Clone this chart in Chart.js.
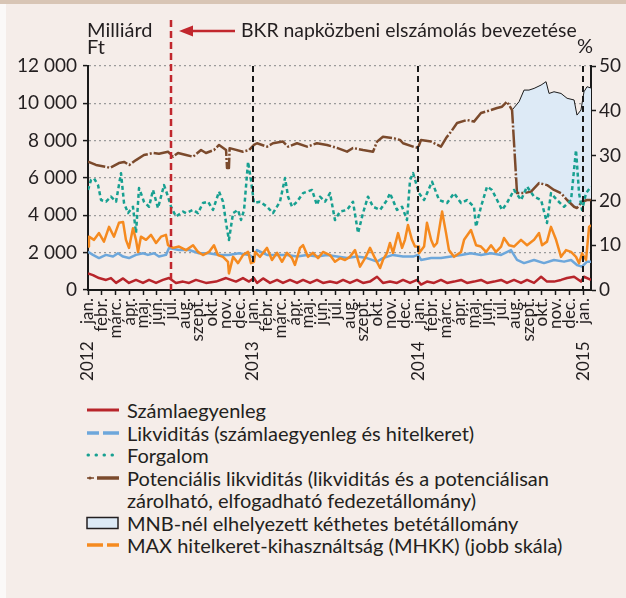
<!DOCTYPE html>
<html>
<head>
<meta charset="utf-8">
<script src="https://cdn.jsdelivr.net/npm/chart.js@4"></script>
<style>
  body { margin: 0; background: #fbf9f8; font-family: Lato, sans-serif; color: #231f20; }
  .band { position: absolute; left: 0; top: 0; width: 626px; height: 4px; background: #d8c5b5; }
  .panel { position: absolute; left: 6px; top: 4px; width: 620px; height: 594px; background: #f5ede9; }
  #wrap { position: absolute; left: 0; top: 0; width: 620px; height: 392px; }
  .legend { position: absolute; left: 0; top: 395px; font-size: 20px; line-height: 22.5px; }
  .row { position: relative; padding-left: 121px; }
  .row svg { position: absolute; left: 80px; top: 4px; }
</style>
</head>
<body>
<div class="band"></div>
<div class="panel">
  <div id="wrap"><canvas id="chart"></canvas></div>
  <div class="legend" id="legend"></div>
</div>
<script>
// months from 2012 jan. 1 (0) to mid jan. 2015
const monthNames = ["jan.", "febr.", "márc.", "ápr.", "máj.", "jún.", "júl.", "aug.", "szept.", "okt.", "nov.", "dec."];
const years = [2012, 2013, 2014, 2015];
const xMax = 36.58;

// Számlaegyenleg, billion Ft
const szamla = [[0,890],[0.36,800],[0.8,640],[1.31,540],[1.67,640],[2.04,380],[2.55,620],[2.98,380],[3.49,540],[4.0,380],[4.44,540],[4.95,380],[5.45,540],[5.89,640],[6.4,380],[6.91,450],[7.35,380],[7.85,540],[8.58,380],[9.31,450],[10.04,640],[10.76,450],[11.27,640],[11.71,450],[12.07,640],[12.29,380],[12.73,620],[13.24,380],[13.75,540],[14.18,380],[14.69,540],[15.2,380],[15.64,540],[16.15,380],[16.65,540],[17.09,380],[17.6,450],[18.11,380],[18.55,540],[19.05,380],[19.56,540],[20.0,380],[20.5,450],[21.02,710],[21.45,380],[21.96,450],[22.47,380],[22.91,540],[23.42,380],[23.93,540],[24.22,290],[24.65,450],[25.16,380],[25.67,540],[26.11,380],[26.62,450],[27.13,540],[27.56,380],[28.07,450],[28.58,540],[29.02,380],[29.53,450],[30.04,540],[30.47,380],[30.98,540],[31.49,380],[31.93,540],[32.44,380],[32.95,710],[33.38,450],[33.89,450],[34.4,540],[34.84,640],[35.35,710],[35.85,450],[36.07,710],[36.58,540]];

// Likviditás (számlaegyenleg és hitelkeret)
const likvid = [[0,2050],[0.36,1880],[0.8,1710],[1.31,1880],[1.82,1790],[2.18,1970],[2.55,1790],[2.98,1710],[3.49,1880],[4.0,1970],[4.36,1880],[4.8,1970],[5.16,1790],[5.67,1880],[5.89,2250],[6.62,2140],[7.35,2140],[8.07,1970],[8.8,1970],[9.53,1880],[10.25,1880],[10.98,1970],[11.71,1880],[12.07,1710],[12.29,2140],[13.02,1880],[13.75,1880],[14.47,1880],[15.2,1790],[15.93,1880],[16.65,1790],[17.38,1880],[18.11,1790],[18.84,1710],[19.56,1790],[20.29,1710],[21.02,1520],[21.45,1710],[22.18,1880],[22.91,1790],[23.64,1790],[24.0,1880],[24.22,1610],[24.95,1710],[25.67,1710],[26.4,1790],[27.13,1880],[27.85,1970],[28.58,1880],[29.31,1970],[30.04,1880],[30.76,2140],[31.2,1610],[31.71,1440],[32.44,1610],[33.16,1440],[33.89,1610],[34.62,1520],[35.13,1610],[35.56,1340],[35.93,1250],[36.29,1520],[36.58,1520]];

// Forgalom
const forgalom = [[0,5360],[0.22,5890],[0.44,5980],[0.73,5620],[0.95,4820],[1.31,4730],[1.67,5000],[2.04,4730],[2.4,6260],[2.62,4660],[2.91,4120],[3.27,4460],[3.49,3050],[3.71,5460],[4.07,4730],[4.44,4460],[4.73,5360],[5.09,4390],[5.53,5620],[5.82,5000],[6.04,4460],[6.4,3930],[6.91,4200],[7.13,4120],[7.64,4290],[8.0,4120],[8.36,4660],[8.73,4730],[9.09,4290],[9.53,5270],[9.82,4730],[10.04,3590],[10.25,2680],[10.55,4120],[10.91,4290],[11.13,3750],[11.35,4290],[11.64,6870],[11.85,5890],[12.07,4660],[12.51,4730],[13.02,4460],[13.45,4120],[13.96,4730],[14.33,6000],[14.55,5000],[14.84,4460],[15.2,4730],[15.64,5190],[16.29,5360],[16.65,4550],[16.87,5000],[17.24,4730],[17.6,5190],[17.96,3750],[18.33,4200],[18.84,4290],[19.27,4730],[19.64,3050],[20.0,4120],[20.36,5000],[20.73,4460],[21.24,4290],[21.75,4820],[21.96,5190],[22.47,4290],[22.84,4460],[23.2,3750],[23.42,5890],[23.64,6260],[23.93,5540],[24.07,5190],[24.44,4820],[25.02,5800],[25.53,4820],[26.11,4660],[26.62,5190],[27.13,4660],[27.56,4820],[28.07,4460],[28.22,3390],[28.58,4460],[29.02,5540],[29.38,5360],[29.75,4820],[30.11,4290],[30.47,4660],[30.98,5360],[31.49,4820],[31.93,5540],[32.44,5000],[32.95,4820],[33.38,3590],[33.67,5190],[34.11,4820],[34.62,4460],[35.13,4820],[35.49,7500],[35.71,5190],[35.93,4290],[36.22,5190],[36.58,5540]];

// Potenciális likviditás
const potencialis = [[0,6870],[0.58,6700],[1.31,6600],[1.6,6540],[2.25,6800],[2.62,6860],[3.0,6700],[3.49,6960],[4.07,7230],[4.73,7340],[5.16,7300],[5.82,7410],[6.18,7140],[6.55,7340],[7.13,7230],[7.64,7140],[8.22,7500],[8.58,7340],[9.16,7500],[9.53,7770],[10.04,7500],[10.11,6540],[10.25,6540],[10.3,7600],[11.27,7410],[11.71,7500],[12.07,7770],[12.29,7860],[13.02,7680],[13.45,7860],[14.18,7950],[14.55,7680],[15.2,7860],[15.93,7680],[16.65,7860],[17.38,7770],[18.11,7610],[18.84,7410],[19.27,7610],[20.0,7500],[20.73,7410],[21.02,7950],[21.45,8210],[22.18,8140],[22.69,8040],[22.91,7860],[23.64,7680],[24.0,7610],[24.22,8040],[24.95,7950],[25.67,7680],[26.04,8140],[26.4,8480],[26.84,8950],[27.56,9110],[28.07,9020],[28.58,9480],[29.31,9640],[29.75,9750],[30.11,9820],[30.47,10090],[30.84,9640],[31.2,5190],[31.71,5190],[32.22,5270],[32.8,5730],[33.38,5620],[33.89,5360],[34.4,5190],[34.84,4820],[35.35,4460],[35.56,4390],[35.93,4730],[36.29,4820],[36.58,4820]];

// top of the MNB two-week deposit band (sits on potenciális likviditás)
const mnbTop = [[30.84,9640],[31.35,10090],[31.71,10710],[32.07,10710],[32.44,10800],[32.95,10980],[33.31,11160],[33.53,10530],[33.89,10620],[34.4,10530],[34.84,10270],[35.35,10180],[35.56,9370],[35.85,9640],[36.07,10620],[36.29,10890],[36.58,10820]];

// MAX hitelkeret-kihasználtság, % (right scale)
const mhkk = [[0,9.7],[0.07,11.9],[0.44,11.2],[0.8,12.7],[1.16,10.8],[1.53,14.1],[1.89,11.9],[2.25,15.0],[2.55,15.2],[2.76,11.2],[2.98,9.4],[3.27,13.8],[3.49,11.2],[3.64,8.5],[3.85,11.9],[4.22,11.2],[4.58,12.3],[4.95,10.5],[5.31,11.9],[5.67,12.3],[5.82,10.0],[6.18,9.4],[6.62,9.7],[7.13,8.9],[7.64,10.0],[8.0,8.5],[8.36,7.8],[8.8,8.5],[9.16,10.0],[9.45,7.8],[9.82,7.4],[10.18,6.3],[10.25,3.7],[10.55,7.4],[10.91,6.0],[11.27,7.8],[11.64,8.5],[11.85,6.0],[12.07,6.3],[12.15,8.5],[12.51,7.4],[13.02,9.4],[13.38,6.7],[13.75,8.3],[14.11,6.3],[14.47,8.3],[14.84,7.1],[15.05,5.6],[15.42,9.4],[15.64,10.0],[16.0,7.4],[16.36,8.3],[16.73,7.1],[17.09,8.5],[17.6,7.8],[17.96,6.3],[18.33,7.1],[18.69,6.7],[19.05,7.4],[19.42,8.9],[19.78,5.2],[20.15,7.1],[20.51,9.4],[20.87,7.1],[21.24,4.9],[21.45,6.7],[21.75,8.3],[21.96,10.5],[22.18,8.3],[22.55,12.7],[22.84,9.4],[23.05,11.2],[23.27,14.5],[23.56,11.2],[23.78,9.7],[24.0,9.7],[24.07,8.2],[24.44,9.7],[24.65,15.0],[24.95,11.2],[25.16,9.7],[25.38,10.5],[25.75,17.5],[26.04,12.7],[26.25,8.9],[26.62,7.4],[27.13,8.5],[27.35,11.2],[27.85,13.4],[28.22,10.0],[28.58,9.7],[28.95,8.5],[29.31,10.0],[29.67,8.5],[30.04,9.7],[30.25,11.6],[30.62,10.0],[30.98,9.7],[31.49,11.2],[31.93,10.0],[32.44,11.2],[32.8,12.7],[33.02,10.0],[33.38,10.8],[33.67,14.1],[34.04,11.2],[34.4,7.4],[34.76,8.9],[35.13,8.5],[35.49,7.4],[35.71,6.0],[35.93,8.2],[36.22,6.7],[36.44,14.1],[36.58,14.5]];

const bkrMonth = 6;
const yearLines = [12, 24, 36];

const toXY = (arr) => arr.map((p) => ({ x: p[0], y: p[1] }));
const fmt = (v) => String(v).replace(/\B(?=(\d{3})+(?!\d))/g, " ");

const ink = "#231f20";
const font = "Lato, sans-serif";

const annotations = {
  id: "annotations",
  afterDatasetsDraw(chart) {
    const ctx = chart.ctx;
    const xs = chart.scales.x;
    const area = chart.chartArea;
    ctx.save();
    // year separators
    ctx.strokeStyle = "#1a1a1a";
    ctx.lineWidth = 2;
    ctx.setLineDash([6, 4]);
    yearLines.forEach((m) => {
      const x = Math.round(xs.getPixelForValue(m));
      ctx.beginPath();
      ctx.moveTo(x, area.top);
      ctx.lineTo(x, area.bottom);
      ctx.stroke();
    });
    // BKR line
    const xr = Math.round(xs.getPixelForValue(bkrMonth));
    ctx.strokeStyle = "#c1272d";
    ctx.lineWidth = 2.5;
    ctx.setLineDash([7, 4]);
    ctx.beginPath();
    ctx.moveTo(xr, 16);
    ctx.lineTo(xr, area.bottom);
    ctx.stroke();
    // arrow
    ctx.setLineDash([]);
    ctx.beginPath();
    ctx.moveTo(xr + 18, 27);
    ctx.lineTo(xr + 64, 27);
    ctx.stroke();
    ctx.fillStyle = "#c1272d";
    ctx.beginPath();
    ctx.moveTo(xr + 8, 27);
    ctx.lineTo(xr + 22, 21.5);
    ctx.lineTo(xr + 22, 32.5);
    ctx.closePath();
    ctx.fill();
    // texts
    ctx.fillStyle = ink;
    ctx.font = "19.4px " + font;
    ctx.textBaseline = "middle";
    ctx.textAlign = "left";
    ctx.fillText("BKR napközbeni elszámolás bevezetése", xr + 70, 27);
    ctx.font = "20px " + font;
    ctx.fillText("Milliárd", 81, 27);
    ctx.fillText("Ft", 81, 44);
    ctx.fillText("%", 571, 43);
    ctx.restore();
  },
};

new Chart(document.getElementById("chart"), {
  type: "line",
  data: {
    datasets: [
      {
        label: "MNB-nél elhelyezett kéthetes betétállomány",
        data: toXY(mnbTop),
        borderColor: "#1a1a1a",
        borderWidth: 1,
        backgroundColor: "#ddeaf6",
        fill: 1,
        order: 6,
      },
      {
        label: "Potenciális likviditás",
        data: toXY(potencialis),
        borderColor: "#7b4a2c",
        borderWidth: 2.5,
        borderDash: [18, 2, 2, 2],
        order: 5,
      },
      {
        label: "Likviditás",
        data: toXY(likvid),
        borderColor: "#6da7db",
        borderWidth: 2.5,
        order: 4,
      },
      {
        label: "Számlaegyenleg",
        data: toXY(szamla),
        borderColor: "#b8252b",
        borderWidth: 2.5,
        order: 3,
      },
      {
        label: "Forgalom",
        data: toXY(forgalom),
        borderColor: "#17a091",
        borderWidth: 2.5,
        borderDash: [4, 3],
        order: 2,
      },
      {
        label: "MAX hitelkeret-kihasználtság",
        data: toXY(mhkk),
        borderColor: "#f58a1f",
        borderWidth: 2.5,
        yAxisID: "y2",
        order: 1,
      },
    ],
  },
  options: {
    responsive: true,
    maintainAspectRatio: false,
    animation: false,
    layout: { padding: { top: 62, left: 0, right: 0, bottom: 0 } },
    elements: { point: { radius: 0 }, line: { tension: 0, borderJoinStyle: "round" } },
    plugins: { legend: { display: false }, tooltip: { enabled: false } },
    scales: {
      x: {
        type: "linear",
        min: 0,
        max: xMax,
        afterBuildTicks: (s) => {
          s.ticks = [];
          for (let i = 0; i <= 36; i++) s.ticks.push({ value: i });
        },
        afterFit: (s) => { s.height = 106; },
        grid: { drawOnChartArea: false, tickLength: 5, tickColor: "#1a1a1a", tickWidth: 1.5 },
        border: { color: "#1a1a1a", width: 2 },
        ticks: {
          autoSkip: false,
          minRotation: 90,
          maxRotation: 90,
          padding: 3,
          color: ink,
          font: { family: font, size: 17 },
          callback: (v) => {
            const i = Math.round(v);
            const name = monthNames[i % 12];
            return i % 12 === 0 ? years[i / 12] + "    " + name : name;
          },
        },
      },
      y: {
        position: "left",
        min: 0,
        max: 12000,
        afterFit: (s) => { s.width = 82; },
        grid: { color: "#9b9b9b", lineWidth: 1.2, tickLength: 5, tickColor: "#1a1a1a", tickWidth: 1.5 },
        border: { color: "#1a1a1a", width: 2, dash: [2, 3] },
        ticks: {
          stepSize: 2000,
          padding: 6,
          color: ink,
          font: { family: font, size: 19 },
          callback: (v) => fmt(v),
        },
      },
      y2: {
        position: "right",
        min: 0,
        max: 50,
        afterFit: (s) => { s.width = 35; },
        grid: { drawOnChartArea: false, tickLength: 5, tickColor: "#1a1a1a", tickWidth: 1.5 },
        border: { color: "#1a1a1a", width: 2 },
        ticks: {
          stepSize: 5,
          padding: 3,
          color: ink,
          font: { family: font, size: 19 },
        },
      },
    },
  },
  plugins: [annotations],
});

// legend
const legendItems = [
  { text: "Számlaegyenleg", svg: '<line x1="1" y1="7" x2="33" y2="7" stroke="#b8252b" stroke-width="3"/>' },
  { text: "Likviditás (számlaegyenleg és hitelkeret)", svg: '<line x1="1" y1="7" x2="33" y2="7" stroke="#6da7db" stroke-width="3.5" stroke-dasharray="12 4 16"/>' },
  { text: "Forgalom", svg: '<line x1="2" y1="7" x2="33" y2="7" stroke="#17a091" stroke-width="3" stroke-linecap="round" stroke-dasharray="0.5 7.5"/>' },
  { text: "Potenciális likviditás (likviditás és a potenciálisan<br>zárolható, elfogadható fedezetállomány)", svg: '<line x1="1" y1="7" x2="8" y2="7" stroke="#7b4a2c" stroke-width="1.5"/><circle cx="4" cy="7" r="1.6" fill="#7b4a2c"/><line x1="11" y1="7" x2="33" y2="7" stroke="#7b4a2c" stroke-width="3.5"/>' },
  { text: "MNB-nél elhelyezett kéthetes betétállomány", svg: '<rect x="1" y="1.5" width="31" height="11" fill="#ddeaf6" stroke="#231f20" stroke-width="1.5"/>' },
  { text: "MAX hitelkeret-kihasználtság (MHKK) (jobb skála)", svg: '<line x1="1" y1="7" x2="17" y2="7" stroke="#f58a1f" stroke-width="3.5"/><line x1="21" y1="7" x2="33" y2="7" stroke="#f58a1f" stroke-width="3.5"/>' },
];

const legend = document.getElementById("legend");
legendItems.forEach((item) => {
  const row = document.createElement("div");
  row.className = "row";
  row.innerHTML = '<svg width="34" height="14">' + item.svg + "</svg>" + item.text;
  legend.append(row);
});
</script>
</body>
</html>
